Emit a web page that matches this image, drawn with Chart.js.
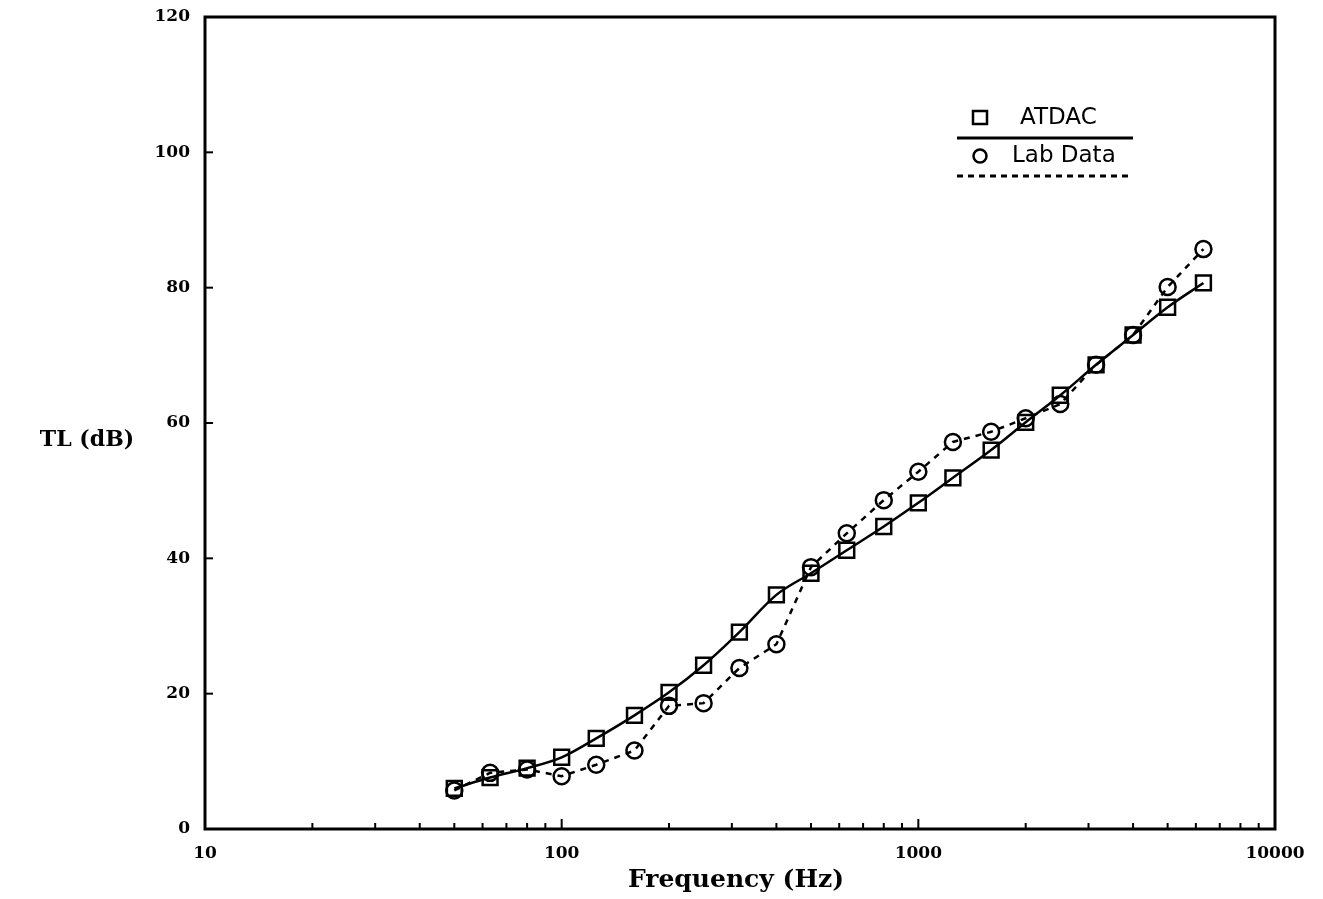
<!DOCTYPE html>
<html>
<head>
<meta charset="utf-8">
<script src="https://cdn.jsdelivr.net/npm/chart.js@4.4.0/dist/chart.umd.min.js"></script>
<style>
  html, body { margin: 0; padding: 0; background: #fff; }
  #wrap { width: 1323px; height: 899px; position: relative; }
</style>
</head>
<body>
<div id="wrap"><canvas id="tlChart"></canvas></div>
<script>
// 1/3 octave band centre frequencies (Hz)
const frequencies = [50, 63, 80, 100, 125, 160, 200, 250, 315, 400, 500, 630, 800, 1000, 1250, 1600, 2000, 2500, 3150, 4000, 5000, 6300];
// TL (dB)
const atdacValues = [6.0, 7.6, 9.0, 10.6, 13.4, 16.8, 20.2, 24.2, 29.1, 34.6, 37.8, 41.2, 44.7, 48.2, 51.9, 56.0, 60.1, 64.1, 68.6, 73.0, 77.1, 80.7];
const labValues = [5.7, 8.3, 8.8, 7.8, 9.5, 11.6, 18.2, 18.6, 23.8, 27.3, 38.7, 43.7, 48.6, 52.8, 57.2, 58.7, 60.7, 62.8, 68.6, 73.0, 80.1, 85.7];
const xTickValues = [10, 100, 1000, 10000];
const yTickValues = [0, 20, 40, 60, 80, 100, 120];

const serifBold = { family: "'DejaVu Serif', 'Liberation Serif', serif", size: 17, weight: "bold" };

function toPoints(values) {
  return frequencies.map((f, i) => ({ x: f, y: values[i] }));
}

// frame, inside ticks, axis titles and legend
const framePlugin = {
  id: "frame",
  afterDraw(chart) {
    const { ctx, chartArea } = chart;
    const xScale = chart.scales.x;
    const yScale = chart.scales.y;
    const { left, right, top, bottom } = chartArea;

    ctx.save();
    ctx.strokeStyle = "#000";
    ctx.lineWidth = 3;
    ctx.strokeRect(left, top, right - left, bottom - top);

    // y ticks pointing into the plot
    ctx.lineWidth = 2;
    yTickValues.slice(1, -1).forEach(v => {
      const py = yScale.getPixelForValue(v);
      ctx.beginPath();
      ctx.moveTo(left, py);
      ctx.lineTo(left + 8, py);
      ctx.stroke();
    });

    // x minor and major ticks pointing up
    for (let dec = 10; dec < 10000; dec *= 10) {
      for (let m = 1; m <= 9; m++) {
        const v = dec * m;
        if (v === 10) continue;
        const px = xScale.getPixelForValue(v);
        const len = m === 1 ? 10 : 6;
        ctx.beginPath();
        ctx.moveTo(px, bottom);
        ctx.lineTo(px, bottom - len);
        ctx.stroke();
      }
    }

    // axis titles
    ctx.fillStyle = "#000";
    ctx.font = "bold 25px 'DejaVu Serif', 'Liberation Serif', serif";
    ctx.textAlign = "center";
    ctx.textBaseline = "middle";
    ctx.fillText("Frequency (Hz)", 736, 880);
    ctx.font = "bold 22px 'DejaVu Serif', 'Liberation Serif', serif";
    ctx.fillText("TL (dB)", 87, 440);

    // legend
    ctx.font = "23px 'DejaVu Sans', sans-serif";
    ctx.textAlign = "left";
    ctx.lineWidth = 2.5;
    ctx.strokeRect(973, 111, 14, 13);
    ctx.fillText("ATDAC", 1020, 118);
    ctx.lineWidth = 3;
    ctx.beginPath();
    ctx.moveTo(957, 138);
    ctx.lineTo(1133, 138);
    ctx.stroke();

    ctx.lineWidth = 2.5;
    ctx.beginPath();
    ctx.arc(980, 156, 6.5, 0, Math.PI * 2);
    ctx.stroke();
    ctx.fillText("Lab Data", 1012, 156);
    ctx.lineWidth = 3;
    ctx.setLineDash([6, 5]);
    ctx.beginPath();
    ctx.moveTo(957, 176);
    ctx.lineTo(1133, 176);
    ctx.stroke();
    ctx.restore();
  }
};

new Chart(document.getElementById("tlChart"), {
  type: "line",
  data: {
    datasets: [
      {
        label: "ATDAC",
        data: toPoints(atdacValues),
        borderColor: "#000",
        borderWidth: 2.5,
        pointStyle: "rect",
        pointRadius: 10.5,
        pointBorderWidth: 2.5,
        pointBorderColor: "#000",
        pointBackgroundColor: "rgba(0,0,0,0)",
        tension: 0.3,
        cubicInterpolationMode: "monotone"
      },
      {
        label: "Lab Data",
        data: toPoints(labValues),
        borderColor: "#000",
        borderWidth: 2.5,
        borderDash: [6, 6],
        pointStyle: "circle",
        pointRadius: 8,
        pointBorderWidth: 2.5,
        pointBorderColor: "#000",
        pointBackgroundColor: "rgba(0,0,0,0)",
        tension: 0
      }
    ]
  },
  options: {
    responsive: true,
    maintainAspectRatio: false,
    animation: false,
    layout: { padding: { top: 17, right: 48, left: 0, bottom: 0 } },
    plugins: {
      legend: { display: false },
      tooltip: { enabled: false }
    },
    scales: {
      x: {
        type: "logarithmic",
        min: 10,
        max: 10000,
        grid: { display: false, drawTicks: false },
        border: { display: false },
        afterBuildTicks: scale => {
          scale.ticks = xTickValues.map(v => ({ value: v }));
        },
        afterFit: scale => {
          scale.height = 70;
          scale.paddingLeft = 0;
          scale.paddingRight = 0;
        },
        ticks: {
          color: "#000",
          font: serifBold,
          padding: 14,
          maxRotation: 0,
          autoSkip: false,
          callback: value => String(value)
        }
      },
      y: {
        min: 0,
        max: 120,
        grid: { display: false, drawTicks: false },
        border: { display: false },
        afterBuildTicks: scale => {
          scale.ticks = yTickValues.map(v => ({ value: v }));
        },
        afterFit: scale => {
          scale.width = 205;
          scale.paddingTop = 0;
          scale.paddingBottom = 0;
        },
        ticks: {
          color: "#000",
          font: serifBold,
          padding: 15
        }
      }
    }
  },
  plugins: [framePlugin]
});
</script>
</body>
</html>
